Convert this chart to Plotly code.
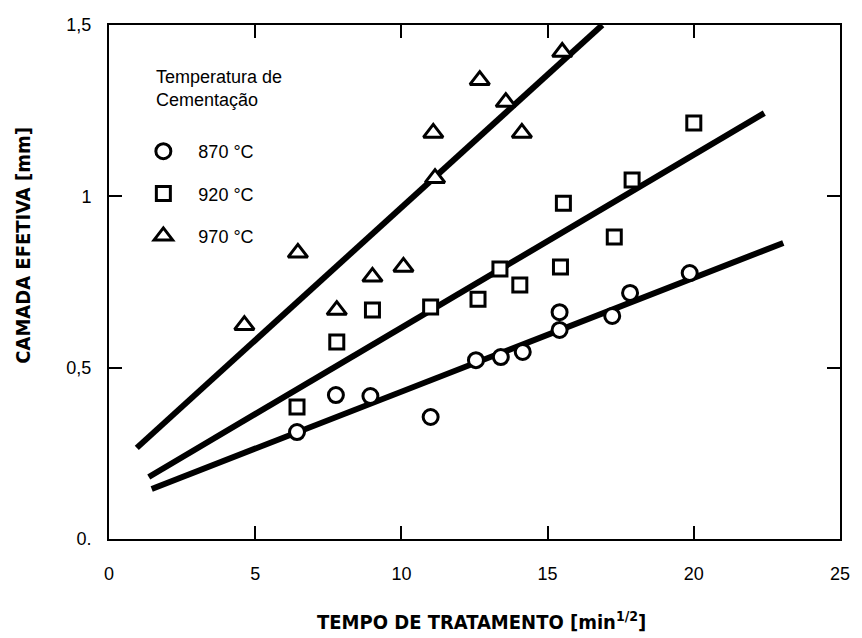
import plotly.graph_objects as go

# Effective case depth vs. square root of treatment time, per carburizing temperature
x_870 = [6.43, 7.76, 8.94, 11.0, 12.55, 13.40, 14.15, 15.41, 15.41, 17.21, 17.82, 19.86]
y_870 = [0.312, 0.420, 0.417, 0.356, 0.522, 0.531, 0.546, 0.610, 0.662, 0.651, 0.718, 0.776]

x_920 = [6.43, 7.79, 9.01, 11.0, 12.62, 13.37, 14.05, 15.44, 15.54, 17.28, 17.89, 20.0]
y_920 = [0.385, 0.575, 0.668, 0.677, 0.700, 0.788, 0.741, 0.794, 0.980, 0.881, 1.048, 1.214]

x_970 = [4.63, 6.46, 7.79, 9.01, 10.07, 11.09, 11.15, 12.68, 13.57, 14.12, 15.5]
y_970 = [0.624, 0.835, 0.668, 0.765, 0.794, 1.185, 1.053, 1.339, 1.275, 1.185, 1.421]

# Linear trend lines (end points)
fit_870_x = [1.46, 23.06]
fit_870_y = [0.146, 0.864]
fit_920_x = [1.36, 22.41]
fit_920_y = [0.181, 1.243]
fit_970_x = [0.95, 16.87]
fit_970_y = [0.266, 1.5]

x_ticks = [0, 5, 10, 15, 20, 25]
x_tick_text = ["0", "5", "10", "15", "20", "25"]
y_ticks = [0, 0.5, 1, 1.5]
y_tick_text = ["0.", "0,5", "1", "1,5"]

series = [
    ("870 °C", x_870, y_870, fit_870_x, fit_870_y, "circle", 15),
    ("920 °C", x_920, y_920, fit_920_x, fit_920_y, "square", 14),
    ("970 °C", x_970, y_970, fit_970_x, fit_970_y, "triangle-up", 17),
]

fig = go.Figure()

for name, xs, ys, fx, fy, sym, size in series:
    fig.add_trace(go.Scatter(
        x=fx, y=fy, mode="lines",
        line=dict(color="black", width=6),
        showlegend=False, hoverinfo="skip",
    ))

for name, xs, ys, fx, fy, sym, size in series:
    fig.add_trace(go.Scatter(
        x=xs, y=ys, mode="markers", name="   " + name,
        legendgroup=name,
        marker=dict(symbol=sym, size=size, color="white",
                    line=dict(color="black", width=3)),
    ))

sans = "Liberation Sans, Arial, sans-serif"
narrow = "Liberation Sans Narrow, DejaVu Sans Condensed, Arial Narrow, sans-serif"
axis_font = dict(family=sans, size=18, color="black")
title_font = dict(family=narrow, size=20, color="black")

fig.update_layout(
    width=862, height=638,
    margin=dict(l=109, r=18, t=25, b=99),
    paper_bgcolor="white", plot_bgcolor="white",
    showlegend=True,
    legend=dict(
        x=0.047, y=0.79, xanchor="left", yanchor="top",
        bgcolor="rgba(0,0,0,0)",
        font=dict(family=sans, size=18, color="black"),
        tracegroupgap=16,
        itemwidth=30,
    ),
    xaxis=dict(
        range=[0, 25], tickvals=x_ticks, ticktext=x_tick_text,
        ticks="inside", ticklen=13, tickwidth=2, tickcolor="black",
        showline=True, linecolor="black", linewidth=2, mirror="allticks",
        showgrid=False, zeroline=False,
        tickfont=axis_font, ticklabelstandoff=17,
    ),
    yaxis=dict(
        range=[0, 1.5], tickvals=y_ticks, ticktext=y_tick_text,
        ticks="inside", ticklen=13, tickwidth=2, tickcolor="black",
        showline=True, linecolor="black", linewidth=2, mirror="allticks",
        showgrid=False, zeroline=False,
        tickfont=axis_font, ticklabelstandoff=12,
    ),
    annotations=[
        dict(text="Temperatura de<br>Cementação", xref="paper", yref="paper",
             x=0.062, y=0.922, xanchor="left", yanchor="top", align="left",
             showarrow=False, font=dict(family=sans, size=18, color="black")),
        dict(text="<b>TEMPO DE TRATAMENTO [min<sup>1/2</sup>]</b>",
             xref="paper", yref="paper", x=0.509, y=-0.16,
             xanchor="center", yanchor="middle", showarrow=False, font=title_font),
        dict(text="<b>CAMADA EFETIVA [mm]</b>", textangle=-90,
             xref="paper", yref="paper", x=-0.118, y=0.572,
             xanchor="center", yanchor="middle", showarrow=False, font=title_font),
    ],
)

fig.write_html("out.html")
